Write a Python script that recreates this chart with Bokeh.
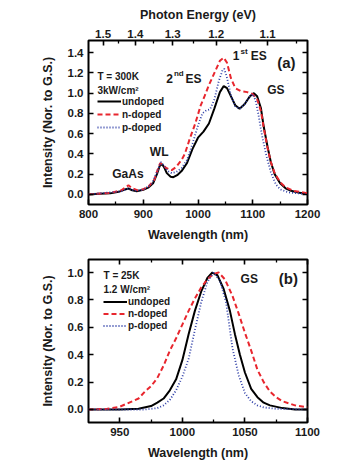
from bokeh.plotting import figure
from bokeh.models import (LinearAxis, FixedTicker, CustomJSTickFormatter, Legend, LegendItem,
                          Label, Range1d, NumeralTickFormatter)
from bokeh.layouts import column
from bokeh.embed import file_html
from bokeh.resources import INLINE

# ---------------- data: panel (a), T = 300K ----------------
wl_a_undoped = [800, 820, 840, 855, 865, 873, 880, 888, 900, 910, 918, 925, 930, 934, 938, 943, 950, 955,
                962, 970, 980, 990, 1000, 1010, 1020, 1030, 1040, 1047, 1053, 1060, 1068, 1076, 1085,
                1095, 1102, 1108, 1115, 1120, 1127, 1133, 1140, 1150, 1160, 1170, 1185, 1200]
int_a_undoped = [0.0, 0.005, 0.01, 0.025, 0.045, 0.058, 0.04, 0.03, 0.045, 0.07, 0.11, 0.2, 0.28, 0.30,
                 0.27, 0.21, 0.175, 0.17, 0.19, 0.23, 0.31, 0.45, 0.56, 0.62, 0.70, 0.85, 1.01, 1.07,
                 1.05, 0.97, 0.88, 0.845, 0.89, 0.97, 1.0, 0.97, 0.85, 0.67, 0.47, 0.32, 0.2, 0.11,
                 0.06, 0.035, 0.015, 0.005]

wl_a_ndoped = [800, 840, 860, 873, 880, 890, 900, 910, 920, 926, 931, 936, 942, 952, 960, 970, 976, 985,
               995, 1005, 1012, 1020, 1030, 1040, 1047, 1053, 1060, 1068, 1078, 1090, 1100, 1108, 1115,
               1120, 1127, 1133, 1140, 1150, 1160, 1175, 1200]
int_a_ndoped = [0.0, 0.015, 0.04, 0.09, 0.06, 0.04, 0.05, 0.08, 0.14, 0.24, 0.31, 0.29, 0.26, 0.24, 0.27,
                0.34, 0.40, 0.55, 0.70, 0.88, 0.97, 1.08, 1.20, 1.32, 1.35, 1.30, 1.15, 1.05, 1.02, 1.01,
                0.99, 0.94, 0.82, 0.66, 0.46, 0.32, 0.21, 0.12, 0.07, 0.035, 0.01]

wl_a_pdoped = [800, 860, 873, 885, 900, 915, 925, 932, 937, 945, 952, 960, 970, 980, 990, 1000, 1008,
               1015, 1022, 1030, 1038, 1045, 1048, 1053, 1060, 1068, 1076, 1085, 1095, 1100, 1105, 1110,
               1117, 1125, 1133, 1142, 1150, 1165, 1200]
int_a_pdoped = [0.0, 0.03, 0.06, 0.035, 0.045, 0.1, 0.22, 0.32, 0.29, 0.23, 0.21, 0.22, 0.26, 0.34, 0.50,
                0.68, 0.80, 0.83, 0.84, 0.94, 1.12, 1.23, 1.24, 1.15, 0.98, 0.87, 0.845, 0.89, 0.97, 0.99,
                0.93, 0.80, 0.58, 0.38, 0.22, 0.10, 0.05, 0.02, 0.0]

# ---------------- data: panel (b), T = 25K ----------------
wl_b_undoped = [925, 950, 965, 975, 980, 985, 990, 995, 1000, 1005, 1010, 1015, 1020, 1024, 1028, 1033,
                1038, 1042, 1046, 1050, 1055, 1060, 1065, 1070, 1080, 1090, 1100]
int_b_undoped = [0.0, 0.0, 0.005, 0.025, 0.05, 0.08, 0.14, 0.22, 0.36, 0.55, 0.72, 0.86, 0.96, 1.0, 0.98,
                 0.88, 0.72, 0.55, 0.40, 0.27, 0.15, 0.09, 0.05, 0.03, 0.01, 0.0, 0.0]

wl_b_ndoped = [925, 940, 950, 960, 965, 970, 975, 980, 985, 990, 995, 1000, 1005, 1010, 1015, 1020, 1025,
               1029, 1034, 1040, 1045, 1050, 1055, 1060, 1065, 1070, 1075, 1080, 1085, 1090, 1100]
int_b_ndoped = [0.0, 0.005, 0.02, 0.06, 0.08, 0.13, 0.17, 0.23, 0.32, 0.43, 0.52, 0.62, 0.72, 0.81, 0.89,
                0.95, 0.99, 1.0, 0.95, 0.83, 0.70, 0.56, 0.43, 0.29, 0.20, 0.13, 0.09, 0.06, 0.045, 0.03,
                0.015]

wl_b_pdoped = [925, 970, 980, 985, 990, 995, 1000, 1005, 1010, 1015, 1020, 1025, 1030, 1035, 1040, 1045,
               1050, 1055, 1060, 1065, 1075, 1100]
int_b_pdoped = [0.0, 0.0, 0.01, 0.03, 0.07, 0.14, 0.24, 0.37, 0.58, 0.78, 0.93, 1.0, 0.94, 0.78, 0.45,
                0.25, 0.12, 0.06, 0.03, 0.015, 0.005, 0.0]

series_labels = ["undoped", "n-doped", "p-doped"]
energy_ticks = [1.5, 1.4, 1.3, 1.2, 1.1]
energy_minor = [1.45, 1.35, 1.25, 1.15, 1.05]
y_ticks_a = [0.0, 0.2, 0.4, 0.6, 0.8, 1.0, 1.2, 1.4]
y_ticks_b = [0.0, 0.2, 0.4, 0.6, 0.8, 1.0]
x_ticks_a = [800, 900, 1000, 1100, 1200]
x_minor_a = [850, 950, 1050, 1150]
x_ticks_b = [950, 1000, 1050, 1100]
x_minor_b = [975, 1025, 1075]
HC = 1239.84

FONT = "Liberation Sans"
COLORS = ["black", "#e8262e", "#2f3fa8"]
DASHES = ["solid", "5 3", "1 2"]
WIDTHS = [2.0, 2.0, 1.8]
TXT = "#1a1a1a"


def style_axis(ax, show_labels=True):
    ax.major_tick_in = 5
    ax.major_tick_out = 0
    ax.minor_tick_in = 3
    ax.minor_tick_out = 0
    ax.major_tick_line_width = 1.6
    ax.minor_tick_line_width = 1.3
    ax.major_tick_line_color = "black"
    ax.minor_tick_line_color = "black"
    ax.axis_line_color = None
    ax.major_label_text_font = FONT
    ax.major_label_text_font_style = "bold"
    ax.major_label_text_font_size = "11.5px"
    ax.major_label_text_color = TXT
    ax.major_label_standoff = 5
    ax.axis_label_text_font = FONT
    ax.axis_label_text_font_style = "bold"
    ax.axis_label_text_font_size = "12.5px"
    ax.axis_label_text_color = TXT
    ax.axis_label_standoff = 7
    if not show_labels:
        ax.formatter = CustomJSTickFormatter(code="return '';")


def make_fig(height, xr, yr, top, bottom):
    p = figure(width=346, height=height, x_range=Range1d(*xr), y_range=Range1d(*yr),
               output_backend="svg", toolbar_location=None,
               min_border_left=88, min_border_right=39, min_border_top=top, min_border_bottom=bottom)
    p.xgrid.visible = False
    p.ygrid.visible = False
    p.outline_line_color = "black"
    p.outline_line_width = 2
    p.outline_line_alpha = 1
    p.background_fill_color = "white"
    p.border_fill_color = "white"
    return p


def add_label(p, x, y, text, size="12px", align="left"):
    p.add_layout(Label(x=x, y=y, text=text, text_font=FONT, text_font_style="bold",
                       text_font_size=size, text_color=TXT, text_baseline="middle",
                       text_align=align))


def add_series(p, data, legend_loc, item_h):
    rs = []
    for (xs, ys), c, d, w in zip(data, COLORS, DASHES, WIDTHS):
        rs.append(p.line(xs, ys, line_color=c, line_dash=d, line_width=w))
    items = [LegendItem(label=lab, renderers=[r]) for lab, r in zip(series_labels, rs)]
    leg = Legend(items=items, location=legend_loc, padding=0, margin=0, spacing=1,
                 glyph_width=24, glyph_height=item_h, label_height=item_h, label_standoff=1,
                 label_text_font=FONT, label_text_font_style="bold", label_text_font_size="10px",
                 label_text_color=TXT, border_line_color=None, background_fill_alpha=0)
    p.add_layout(leg)


# ---------------- panel (a) ----------------
pa = make_fig(245, (800, 1200), (-0.1, 1.52), 40, 41)
pa.xaxis.ticker = FixedTicker(ticks=x_ticks_a, minor_ticks=x_minor_a)
pa.yaxis.ticker = FixedTicker(ticks=y_ticks_a)
pa.yaxis.formatter = NumeralTickFormatter(format="0.0")
pa.xaxis.axis_label = "Wavelength (nm)"
pa.yaxis.axis_label = "Intensity (Nor. to G.S.)"
style_axis(pa.xaxis[0])
style_axis(pa.yaxis[0])
pa.yaxis.axis_label_standoff = 10

top_a = LinearAxis(ticker=FixedTicker(ticks=[HC / e for e in energy_ticks],
                                      minor_ticks=[HC / e for e in energy_minor]),
                   formatter=CustomJSTickFormatter(code="return (1239.84/tick).toFixed(1);"),
                   axis_label="Photon Energy (eV)")
style_axis(top_a)
top_a.major_label_standoff = 3
top_a.axis_label_standoff = 5
pa.add_layout(top_a, "above")
right_a = LinearAxis(ticker=FixedTicker(ticks=y_ticks_a))
style_axis(right_a, show_labels=False)
pa.add_layout(right_a, "right")

add_series(pa, [(wl_a_undoped, int_a_undoped), (wl_a_ndoped, int_a_ndoped),
                (wl_a_pdoped, int_a_pdoped)], (9, 71), 12)

add_label(pa, 816.4, 1.164, "T = 300K", "10px")
add_label(pa, 816.4, 1.026, "3kW/cm\u00b2", "10px")
add_label(pa, 941.9, 1.144, "2")
add_label(pa, 956.0, 1.195, "nd", "8px")
add_label(pa, 977.2, 1.144, "ES")
add_label(pa, 1063.6, 1.371, "1")
add_label(pa, 1077.5, 1.415, "st", "8px")
add_label(pa, 1096.5, 1.371, "ES")
add_label(pa, 1144.6, 1.299, "(a)", "15px")
add_label(pa, 1126.4, 1.032, "GS")
add_label(pa, 912.0, 0.417, "WL")
add_label(pa, 843.3, 0.197, "GaAs")

# ---------------- panel (b) ----------------
pb = make_fig(218, (925, 1100), (-0.095, 1.095), 14, 41)
pb.xaxis.ticker = FixedTicker(ticks=x_ticks_b, minor_ticks=x_minor_b)
pb.yaxis.ticker = FixedTicker(ticks=y_ticks_b)
pb.yaxis.formatter = NumeralTickFormatter(format="0.0")
pb.xaxis.axis_label = "Wavelength (nm)"
pb.yaxis.axis_label = "Intensity (Nor. to G.S.)"
style_axis(pb.xaxis[0])
style_axis(pb.yaxis[0])
pb.yaxis.axis_label_standoff = 10

top_b = LinearAxis(ticker=FixedTicker(ticks=x_ticks_b, minor_ticks=x_minor_b))
style_axis(top_b, show_labels=False)
pb.add_layout(top_b, "above")
right_b = LinearAxis(ticker=FixedTicker(ticks=y_ticks_b))
style_axis(right_b, show_labels=False)
pb.add_layout(right_b, "right")

add_series(pb, [(wl_b_undoped, int_b_undoped), (wl_b_ndoped, int_b_ndoped),
                (wl_b_pdoped, int_b_pdoped)], (15, 91), 11)

add_label(pb, 937.0, 0.978, "T = 25K", "10px")
add_label(pb, 937.0, 0.876, "1.2 W/cm\u00b2", "10px")
add_label(pb, 1046.5, 0.954, "GS")
add_label(pb, 1077.1, 0.954, "(b)", "15px")

layout = column(pa, pb, spacing=0)
open("out.html", "w").write(file_html(layout, INLINE))
